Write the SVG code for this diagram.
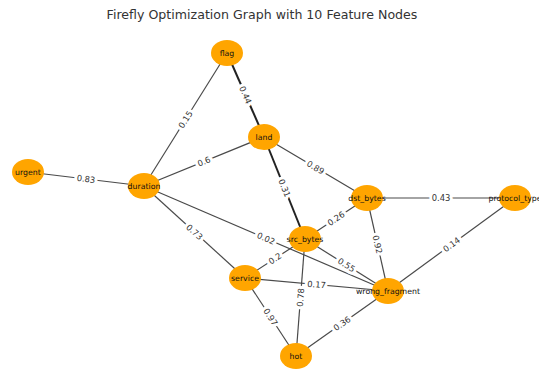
<svg xmlns="http://www.w3.org/2000/svg" width="539" height="370" viewBox="0 0 539 370">
  <style>
    .title { font-family: "DejaVu Sans", "Liberation Sans", sans-serif; font-size: 12.6px; fill: #333; text-anchor: middle; }
    .edge { stroke: #4a4a4a; stroke-width: 1.2; fill: none; }
    .edge.heavy { stroke: #222; stroke-width: 2; }
    .node ellipse { fill: #FFA500; }
    .node text { font-family: "DejaVu Sans", "Liberation Sans", sans-serif; font-size: 7.8px; fill: #111; text-anchor: middle; dominant-baseline: central; }
    .elabel { font-family: "DejaVu Sans", "Liberation Sans", sans-serif; font-size: 8.4px; fill: #333; text-anchor: middle; dominant-baseline: central; stroke: #fff; stroke-width: 6; stroke-linejoin: round; paint-order: stroke; }
  </style>
  <rect width="539" height="370" fill="#fff"/>
  <text class="title" x="262" y="19">Firefly Optimization Graph with 10 Feature Nodes</text>

  <g id="edges">
    <line class="edge heavy" x1="227" y1="53" x2="264" y2="137"/>
    <line class="edge" x1="227" y1="53" x2="144" y2="186"/>
    <line class="edge" x1="264" y1="137" x2="144" y2="186"/>
    <line class="edge heavy" x1="264" y1="137" x2="305" y2="239"/>
    <line class="edge" x1="264" y1="137" x2="367" y2="198"/>
    <line class="edge" x1="28" y1="172" x2="144" y2="186"/>
    <line class="edge" x1="144" y1="186" x2="245" y2="278"/>
    <line class="edge" x1="144" y1="186" x2="388" y2="291"/>
    <line class="edge" x1="367" y1="198" x2="515" y2="198"/>
    <line class="edge" x1="367" y1="198" x2="305" y2="239"/>
    <line class="edge" x1="367" y1="198" x2="388" y2="291"/>
    <line class="edge" x1="305" y1="239" x2="245" y2="278"/>
    <line class="edge" x1="305" y1="239" x2="388" y2="291"/>
    <line class="edge" x1="305" y1="239" x2="296" y2="356"/>
    <line class="edge" x1="245" y1="278" x2="388" y2="291"/>
    <line class="edge" x1="245" y1="278" x2="296" y2="356"/>
    <line class="edge" x1="388" y1="291" x2="296" y2="356"/>
    <line class="edge" x1="515" y1="198" x2="388" y2="291"/>
  </g>

  <g id="node-flag" class="node"><ellipse cx="227" cy="53" rx="16" ry="13"/><text x="227" y="53">flag</text></g>
  <g id="node-land" class="node"><ellipse cx="264" cy="137" rx="16" ry="13"/><text x="264" y="137">land</text></g>
  <g id="node-urgent" class="node"><ellipse cx="28" cy="172" rx="16" ry="13"/><text x="28" y="172">urgent</text></g>
  <g id="node-duration" class="node"><ellipse cx="144" cy="186" rx="16" ry="13"/><text x="144" y="186">duration</text></g>
  <g id="node-dst_bytes" class="node"><ellipse cx="367" cy="198" rx="16" ry="13"/><text x="367" y="198">dst_bytes</text></g>
  <g id="node-protocol_type" class="node"><ellipse cx="515" cy="198" rx="16" ry="13"/><text x="515" y="198">protocol_type</text></g>
  <g id="node-src_bytes" class="node"><ellipse cx="305" cy="239" rx="16" ry="13"/><text x="305" y="239">src_bytes</text></g>
  <g id="node-service" class="node"><ellipse cx="245" cy="278" rx="16" ry="13"/><text x="245" y="278">service</text></g>
  <g id="node-wrong_fragment" class="node"><ellipse cx="388" cy="291" rx="16" ry="13"/><text x="388" y="291">wrong_fragment</text></g>
  <g id="node-hot" class="node"><ellipse cx="296" cy="356" rx="16" ry="13"/><text x="296" y="356">hot</text></g>

  <g id="edge-labels">
    <text class="elabel" transform="translate(245.5 95) rotate(66.2)">0.44</text>
    <text class="elabel" transform="translate(185.5 119.5) rotate(-58)">0.15</text>
    <text class="elabel" transform="translate(204 161.5) rotate(-22.2)">0.6</text>
    <text class="elabel" transform="translate(284.5 188) rotate(68.1)">0.31</text>
    <text class="elabel" transform="translate(315.5 167.5) rotate(30.6)">0.89</text>
    <text class="elabel" transform="translate(86 179) rotate(6.9)">0.83</text>
    <text class="elabel" transform="translate(194.5 232) rotate(42.3)">0.73</text>
    <text class="elabel" transform="translate(266 238.5) rotate(23.3)">0.02</text>
    <text class="elabel" transform="translate(441 198)">0.43</text>
    <text class="elabel" transform="translate(336 218.5) rotate(-33.5)">0.26</text>
    <text class="elabel" transform="translate(377.5 244.5) rotate(77.3)">0.92</text>
    <text class="elabel" transform="translate(275 258.5) rotate(-33)">0.2</text>
    <text class="elabel" transform="translate(346.5 265) rotate(32.1)">0.55</text>
    <text class="elabel" transform="translate(300.5 297.5) rotate(-85.6)">0.78</text>
    <text class="elabel" transform="translate(316.5 284.5) rotate(5.2)">0.17</text>
    <text class="elabel" transform="translate(270.5 317) rotate(56.8)">0.97</text>
    <text class="elabel" transform="translate(342 323.5) rotate(-35.2)">0.36</text>
    <text class="elabel" transform="translate(451.5 244.5) rotate(-36.2)">0.14</text>
  </g>
</svg>
